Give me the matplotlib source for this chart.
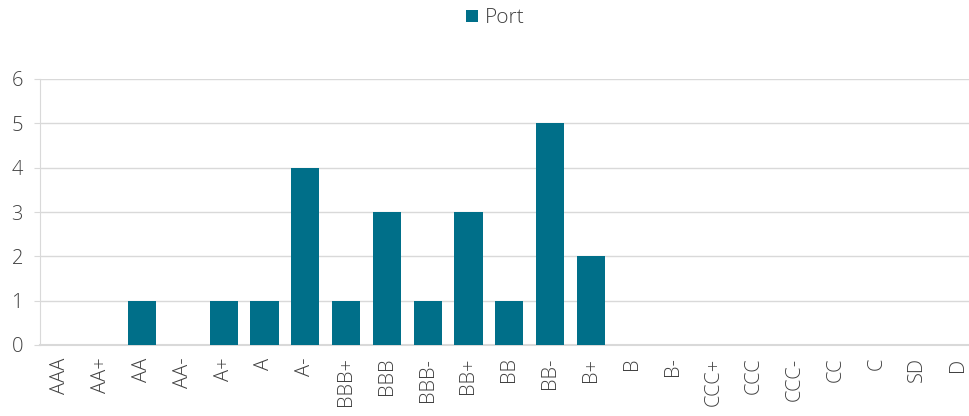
import matplotlib
matplotlib.use("Agg")
import matplotlib.pyplot as plt
from matplotlib.patches import Patch

# ratings and number of holdings per rating
ratings = ['AAA', 'AA+', 'AA', 'AA-', 'A+', 'A', 'A-', 'BBB+', 'BBB', 'BBB-', 'BB+', 'BB',
           'BB-', 'B+', 'B', 'B-', 'CCC+', 'CCC', 'CCC-', 'CC', 'C', 'SD', 'D']
port = [0, 0, 1, 0, 1, 1, 4, 1, 3, 1, 3, 1, 5, 2, 0, 0, 0, 0, 0, 0, 0, 0, 0]
y_ticks = [0, 1, 2, 3, 4, 5, 6]

bar_color = '#006F89'
grid_color = '#D9D9D9'
text_color = '#404040'

plt.rcParams['font.family'] = ['Open Sans', 'DejaVu Sans']
plt.rcParams['font.weight'] = 'light'

fig = plt.figure(figsize=(9.69, 4.16), dpi=100)
W, H = 969, 416
left, right = 40, 978.6
bottom, top = 345, 79
ax = fig.add_axes([left / W, 1 - bottom / H, (right - left) / W, (bottom - top) / H])

x = list(range(len(ratings)))
ax.bar(x, port, width=0.69, color=bar_color, zorder=3)

ax.set_xlim(-0.5, len(ratings) - 0.5)
ax.set_ylim(0, 6)
ax.set_yticks(y_ticks)
ax.set_xticks(x)
ax.set_xticklabels(ratings, rotation=90)

ax.grid(axis='y', color=grid_color, linewidth=1, zorder=0)
for side in ['top', 'right']:
    ax.spines[side].set_visible(False)
ax.spines['left'].set_color(grid_color)
ax.spines['bottom'].set_color(grid_color)
ax.spines['bottom'].set_linewidth(1.5)

ax.tick_params(axis='y', length=4.3, color=grid_color, labelsize=14.5, labelcolor=text_color, pad=8)
ax.tick_params(axis='x', length=0, labelsize=14.5, labelcolor=text_color, pad=9)

handle = Patch(facecolor=bar_color, edgecolor='none')
fig.legend([handle], ['Port'], loc='upper center', bbox_to_anchor=(0.511, 1.025), frameon=False,
           fontsize=15, labelcolor=text_color, handlelength=0.58, handleheight=0.58, handletextpad=0.3)

fig.savefig('out.png', dpi=100)
